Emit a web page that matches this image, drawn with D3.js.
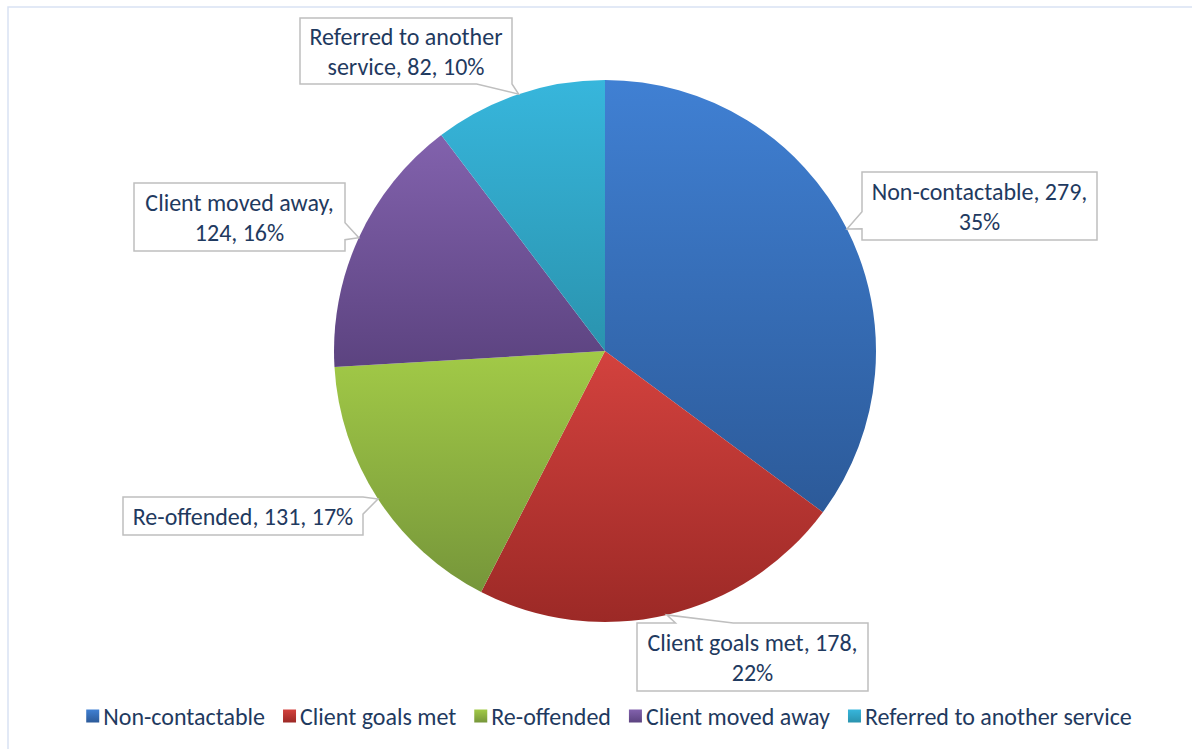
<!DOCTYPE html>
<html>
<head>
<meta charset="utf-8">
<script src="https://cdn.jsdelivr.net/npm/d3@7"></script>
<style>
  body { margin: 0; background: #ffffff; }
  svg text { font-family: Carlito, Lato, "Noto Sans", sans-serif; }
</style>
</head>
<body>
<svg id="pie-chart" width="1192" height="749"></svg>
<script>
// values
const categories = [
  "Non-contactable",
  "Client goals met",
  "Re-offended",
  "Client moved away",
  "Referred to another service",
];
const counts = [279, 178, 131, 124, 82];
const percentLabels = ["35%", "22%", "17%", "16%", "10%"];
// text in each callout, split as in the picture
const labelLines = [
  ["Non-contactable, 279,", "35%"],
  ["Client goals met, 178,", "22%"],
  ["Re-offended, 131, 17%"],
  ["Client moved away,", "124, 16%"],
  ["Referred to another", "service, 82, 10%"],
];

const colorTop = ["#4080d3", "#d3423e", "#a2ca47", "#8262ad", "#37b6dc"];
const colorBottom = ["#2c5a99", "#9c2926", "#76963a", "#5c4380", "#2a93ae"];
const textColor = "#1f3a60";

// callout boxes: x, y, w, h, and on which side the pointer leaves
const calloutLayout = [
  { x: 862, y: 172, w: 235, h: 68, side: "left", f0: 7 / 12, f1: 10 / 12 },
  { x: 637, y: 623, w: 231, h: 68, side: "top", f0: 2 / 12, f1: 5 / 12 },
  { x: 123, y: 497, w: 240, h: 38, side: "right", f0: 0, f1: 0.45 },
  { x: 134, y: 183, w: 211, h: 68, side: "right", f0: 7 / 12, f1: 10 / 12 },
  { x: 300, y: 18, w: 212, h: 66, side: "bottom", f0: 10 / 12, f1: 1 },
];

const data = categories.map((c, i) => ({
  name: c,
  count: counts[i],
  pct: percentLabels[i],
  lines: labelLines[i],
  i: i,
}));

const svg = d3.select("#pie-chart");
const width = Number(svg.attr("width"));
const height = Number(svg.attr("height"));

const cx = 605;
const cy = 351;
const radius = 271;
const fontSize = 24;

// frame
svg
  .append("rect")
  .attr("x", 8)
  .attr("y", 7)
  .attr("width", width + 100)
  .attr("height", height + 100)
  .attr("fill", "none")
  .attr("stroke", "#d9e2f3")
  .attr("stroke-width", 1.5);

const defs = svg.append("defs");
data.forEach((d) => {
  const grad = defs
    .append("linearGradient")
    .attr("id", `grad-${d.i}`)
    .attr("x1", 0)
    .attr("y1", 0)
    .attr("x2", 0)
    .attr("y2", 1);
  grad.append("stop").attr("offset", "0%").attr("stop-color", colorTop[d.i]);
  grad
    .append("stop")
    .attr("offset", "100%")
    .attr("stop-color", colorBottom[d.i]);
});

const pie = d3
  .pie()
  .sort(null)
  .value((d) => d.count);
const arcs = pie(data);
const arcGen = d3.arc().innerRadius(0).outerRadius(radius);

const pieArea = svg
  .append("g")
  .attr("id", "pie-area")
  .attr("transform", `translate(${cx}, ${cy})`);

pieArea
  .selectAll("path.slice")
  .data(arcs)
  .join("path")
  .attr("class", "slice")
  .attr("d", arcGen)
  .attr("fill", (d) => `url(#grad-${d.data.i})`);

// callouts
function calloutPath(b, tip) {
  const { x, y, w, h, side, f0, f1 } = b;
  const pts = [[x, y]];
  if (side === "top") pts.push([x + w * f0, y], tip, [x + w * f1, y]);
  pts.push([x + w, y]);
  if (side === "right") pts.push([x + w, y + h * f0], tip, [x + w, y + h * f1]);
  pts.push([x + w, y + h]);
  if (side === "bottom") pts.push([x + w * f1, y + h], tip, [x + w * f0, y + h]);
  pts.push([x, y + h]);
  if (side === "left") pts.push([x, y + h * f1], tip, [x, y + h * f0]);
  return "M" + pts.map((p) => p.join(",")).join("L") + "Z";
}

const calloutArea = svg.append("g").attr("id", "callouts");

arcs.forEach((a) => {
  const mid = (a.startAngle + a.endAngle) / 2;
  const tip = [cx + radius * Math.sin(mid), cy - radius * Math.cos(mid)];
  const box = calloutLayout[a.data.i];
  const g = calloutArea.append("g").attr("class", "callout");

  g.append("path")
    .attr("d", calloutPath(box, tip))
    .attr("fill", "#ffffff")
    .attr("stroke", "#bfbfbf")
    .attr("stroke-width", 1.5);

  const lineHeight = 30;
  const lines = a.data.lines;
  const y0 = box.y + box.h / 2 - ((lines.length - 1) * lineHeight) / 2;
  g.selectAll("text")
    .data(lines)
    .join("text")
    .attr("x", box.x + box.w / 2)
    .attr("y", (d, j) => y0 + j * lineHeight)
    .attr("text-anchor", "middle")
    .attr("dominant-baseline", "central")
    .attr("font-size", fontSize)
    .attr("fill", textColor)
    .text((d) => d);
});

// legend
const legend = svg.append("g").attr("id", "legend");
const legendY = 716;
const sq = 13;
const items = legend
  .selectAll("g.legend-item")
  .data(data)
  .join("g")
  .attr("class", "legend-item");

items
  .append("rect")
  .attr("width", sq)
  .attr("height", sq)
  .attr("y", legendY - sq / 2)
  .attr("fill", (d) => `url(#grad-${d.i})`);

items
  .append("text")
  .attr("x", sq + 4)
  .attr("y", legendY)
  .attr("dominant-baseline", "central")
  .attr("font-size", fontSize)
  .attr("fill", textColor)
  .text((d) => d.name);

let xPos = 0;
const offsets = [];
items.each(function () {
  const w = d3.select(this).select("text").node().getComputedTextLength();
  offsets.push(xPos);
  xPos += sq + 4 + w + 18;
});
const totalW = xPos - 18;
const startX = 609 - totalW / 2;
items.attr("transform", (d, i) => `translate(${startX + offsets[i]}, 0)`);
</script>
</body>
</html>
